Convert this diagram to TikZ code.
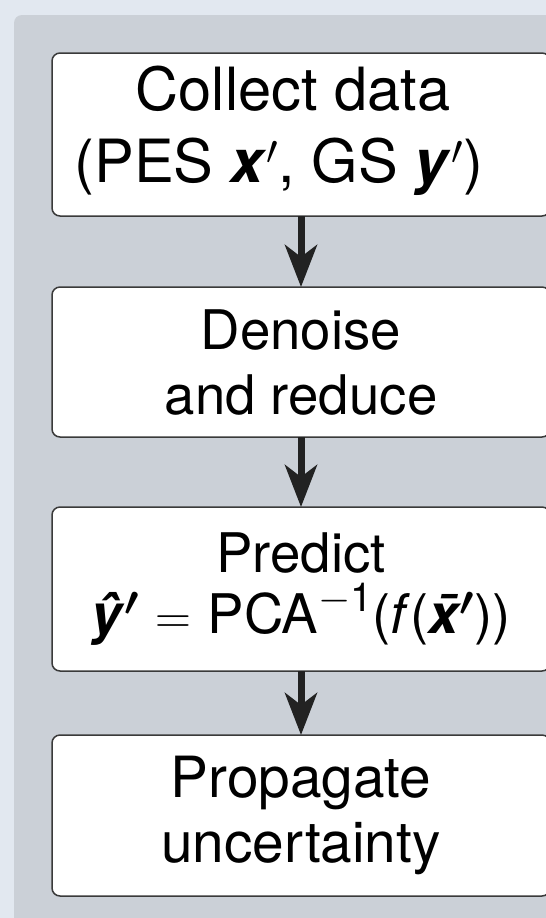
\documentclass[tikz,border=0pt]{standalone}
\usepackage{amsmath}
\usepackage{fontspec}
\setmainfont{TeX Gyre Heros}
\usetikzlibrary{arrows.meta, positioning}
\definecolor{pagebg}{HTML}{E2E8F0}
\definecolor{panelbg}{HTML}{CBD0D7}
\definecolor{edgegray}{HTML}{3A3A3A}
\definecolor{arrowdark}{HTML}{222222}

\begin{document}
\begin{tikzpicture}[
  x=0.5pt, y=-0.5pt,
  block/.style = {draw=edgegray, line width=0.75pt, fill=white, rounded corners=4pt,
    minimum width=249pt, align=center, inner sep=0pt, outer sep=0pt,
    font=\fontsize{27.3}{32.5}\selectfont},
  arrow/.style = {arrowdark, line width=3.5pt, -{Stealth[length=21pt, width=16pt, inset=6pt]}},
  node distance=35.5pt
]
  \useasboundingbox[fill=pagebg] (0,0) rectangle (546,918);
  % grey panel behind the steps
  \fill[panelbg, rounded corners=4pt] (14,15) rectangle (580,950);

  % Collect data
  \node[block, minimum height=81.5pt, text depth=10pt, anchor=north,
    font=\fontsize{29.8}{36}\selectfont] (collect) at (301,53) {
    Collect data\hspace*{8pt}\\
    (PES \textbf{\textit{x}}$'$, GS \textbf{\textit{y}}$'$)\hspace*{22pt}
  };

  % Denoise and reduce
  \node[block, minimum height=75pt, below=of collect] (denoise) {
    Denoise\\
    and reduce
  };

  % Predict
  \node[block, minimum height=82pt, below=35pt of denoise,
    font=\fontsize{27.3}{30.5}\selectfont] (predict) {
    Predict\\
    \textbf{\textit{\^{y}}}{\boldmath$'$}\hspace{8pt}$=$\hspace{8pt}PCA\raisebox{0.4em}{\fontsize{20}{20}\selectfont$-$1}(\textit{f}(\textbf{\textit{\={x}}}{\boldmath$'$}))
  };

  % Propagate uncertainty
  \node[block, minimum height=80.5pt, below=32pt of predict,
    font=\fontsize{28.4}{32.5}\selectfont] (propagate) {
    Propagate\\
    uncertainty
  };

  \draw[arrow] (collect) -- (denoise);
  \draw[arrow] (denoise) -- (predict);
  \draw[arrow] (predict) -- (propagate);

\end{tikzpicture}
\end{document}
